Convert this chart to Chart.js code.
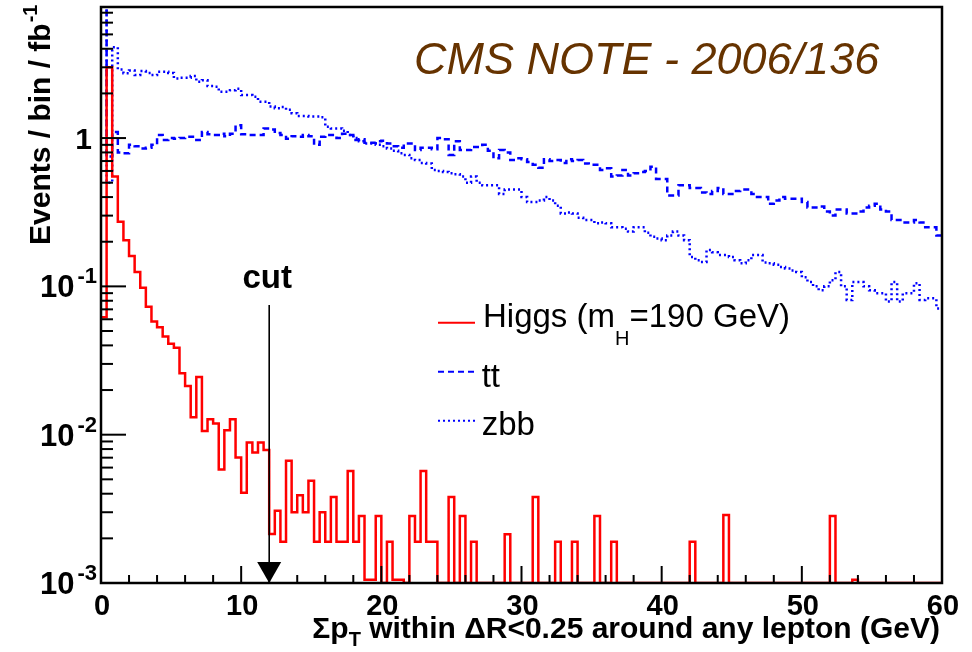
<!DOCTYPE html>
<html><head><meta charset="utf-8">
<script src="https://cdn.jsdelivr.net/npm/chart.js@4.4.1/dist/chart.umd.min.js"></script>
<style>html,body{margin:0;padding:0;background:#fff;} #wrap{width:972px;height:652px;position:relative;}</style>
</head><body><div id="wrap"><canvas id="c"></canvas></div>
<script>
// ---- data ----
const BIN_WIDTH = 0.4; // GeV per bin, bins start at 0
const X_MIN = 0, X_MAX = 60, X_MINOR_STEP = 2;
const Y_MIN = 0.001, Y_MAX = 7.65;
const X_TICK_VALUES = [0, 10, 20, 30, 40, 50, 60];
const X_TICK_LABELS = ['0', '10', '20', '30', '40', '50', '60'];
const Y_TICK_VALUES = [1, 0.1, 0.01, 0.001];
const Y_TICK_BASES = ['1', '10', '10', '10'];
const Y_TICK_EXPS = ['', '-1', '-2', '-3'];
const CUT_VALUE = 12;
const CUT_ARROW_TOP = 0.075;

const higgs = [
 0.062, 3.0, 0.55, 0.273, 0.205, 0.16, 0.125, 0.098, 0.073, 0.058,
 0.053, 0.046, 0.041, 0.0385, 0.026, 0.0213, 0.0131, 0.0245, 0.0106, 0.0127,
 0.0119, 0.00583, 0.0107, 0.0127, 0.00703, 0.00406, 0.00887, 0.00759, 0.00887, 0.00787,
 0.00214, 0.00307, 0.0019, 0.00667, 0.003, 0.0039, 0.003, 0.0049, 0.0019, 0.003,
 0.0019, 0.0038, 0.0019, 0.0019, 0.0057, 0.0019, 0.00283, 0.00105, 0.00105, 0.00283,
 0, 0.0019, 0.00105, 0.00105, 0, 0.00283, 0.0019, 0.0057, 0.0019, 0.0019,
 0, 0, 0.0038, 0, 0.00283, 0, 0.0019, 0, 0, 0,
 0, 0, 0.00213, 0, 0, 0, 0, 0.0038, 0, 0,
 0, 0.0019, 0, 0, 0.0019, 0, 0, 0, 0.00283, 0,
 0, 0.0019, 0, 0, 0, 0, 0, 0, 0, 0,
 0, 0, 0, 0, 0, 0.0019, 0, 0, 0, 0,
 0, 0.00287, 0, 0, 0, 0, 0, 0, 0, 0,
 0, 0, 0, 0, 0, 0, 0, 0, 0, 0,
 0.00283, 0, 0, 0, 0.00105, 0, 0, 0, 0, 0,
 0, 0, 0, 0, 0, 0, 0, 0, 0, 0
];
const ttbar = [
 20, 0.75, 1.1, 0.80, 0.79, 0.90, 0.88, 0.85, 0.86, 0.90,
 1.05, 0.97, 1.00, 0.99, 1.00, 1.02, 1.02, 0.97, 1.10, 1.06,
 1.05, 1.07, 1.03, 1.07, 1.22, 1.06, 1.05, 1.05, 1.05, 1.16,
 1.14, 1.08, 1.05, 0.99, 1.03, 1.02, 1.05, 1.03, 0.90, 1.02,
 1.05, 1.05, 1.00, 1.07, 1.05, 0.97, 0.98, 0.93, 0.93, 0.95,
 0.96, 0.92, 0.88, 0.86, 0.92, 0.92, 0.83, 0.86, 0.86, 0.84,
 1.00, 0.98, 0.77, 0.95, 0.83, 0.83, 0.87, 0.87, 0.90, 0.82,
 0.73, 0.83, 0.80, 0.71, 0.73, 0.72, 0.69, 0.66, 0.63, 0.72,
 0.70, 0.71, 0.68, 0.72, 0.70, 0.71, 0.675, 0.66, 0.66, 0.61,
 0.625, 0.55, 0.56, 0.61, 0.56, 0.58, 0.59, 0.60, 0.64, 0.53,
 0.53, 0.41, 0.41, 0.48, 0.48, 0.46, 0.46, 0.43, 0.42, 0.44,
 0.46, 0.42, 0.42, 0.44, 0.45, 0.45, 0.42, 0.40, 0.40, 0.36,
 0.38, 0.40, 0.39, 0.39, 0.39, 0.37, 0.34, 0.34, 0.345, 0.32,
 0.30, 0.33, 0.33, 0.31, 0.31, 0.32, 0.34, 0.35, 0.36, 0.33,
 0.32, 0.28, 0.28, 0.27, 0.27, 0.28, 0.27, 0.25, 0.25, 0.22
];
const zbb = [
 20, 0.5, 4.1, 2.9, 2.73, 2.85, 2.66, 2.83, 2.75, 2.66,
 2.8, 2.8, 2.75, 2.52, 2.55, 2.55, 2.62, 2.4, 2.45, 2.24,
 2.22, 2.05, 2.05, 2.1, 2.15, 1.95, 1.95, 1.9, 1.76, 1.76,
 1.63, 1.59, 1.62, 1.55, 1.47, 1.41, 1.41, 1.40, 1.40, 1.38,
 1.19, 1.16, 1.16, 1.12, 1.05, 1.0, 0.95, 0.92, 0.92, 0.90,
 0.88, 0.85, 0.82, 0.79, 0.77, 0.73, 0.71, 0.68, 0.675, 0.61,
 0.60, 0.59, 0.58, 0.57, 0.55, 0.50, 0.55, 0.50, 0.48, 0.48,
 0.48, 0.42, 0.45, 0.45, 0.45, 0.40, 0.37, 0.37, 0.38, 0.40,
 0.38, 0.35, 0.31, 0.315, 0.31, 0.29, 0.28, 0.28, 0.266, 0.27,
 0.266, 0.25, 0.25, 0.245, 0.234, 0.25, 0.25, 0.23, 0.216, 0.21,
 0.205, 0.22, 0.234, 0.22, 0.205, 0.158, 0.15, 0.146, 0.176, 0.17,
 0.163, 0.163, 0.158, 0.15, 0.143, 0.15, 0.163, 0.163, 0.145, 0.143,
 0.14, 0.135, 0.132, 0.128, 0.125, 0.115, 0.107, 0.10, 0.094, 0.10,
 0.11, 0.125, 0.10, 0.081, 0.107, 0.107, 0.10, 0.094, 0.09, 0.09,
 0.079, 0.107, 0.079, 0.09, 0.09, 0.105, 0.081, 0.083, 0.083, 0.071
];

// empty bins are drawn on the axis floor, as the histogram does
function toSteps(values) {
  const pts = values.map((v, i) => ({ x: i * BIN_WIDTH, y: v > 0 ? v : Y_MIN }));
  pts.push({ x: values.length * BIN_WIDTH, y: pts[pts.length - 1].y });
  return pts;
}

const SANS = '"Liberation Sans", Arial, Helvetica, sans-serif';

function line(ctx, x1, y1, x2, y2) { ctx.beginPath(); ctx.moveTo(x1, y1); ctx.lineTo(x2, y2); ctx.stroke(); }

const rootPlugin = {
  id: 'rootStyle',
  afterDatasetsDraw(chart) {
    const { ctx, chartArea: a, scales: { x, y } } = chart;
    ctx.save();
    ctx.strokeStyle = '#000'; ctx.fillStyle = '#000';
    // cut arrow
    const cx = x.getPixelForValue(CUT_VALUE);
    const cTop = y.getPixelForValue(CUT_ARROW_TOP);
    ctx.lineWidth = 1.6;
    line(ctx, cx, cTop, cx, a.bottom - 18);
    ctx.beginPath(); ctx.moveTo(cx - 12, a.bottom - 21); ctx.lineTo(cx + 12, a.bottom - 21); ctx.lineTo(cx, a.bottom); ctx.closePath(); ctx.fill();
    ctx.font = 'bold 33px ' + SANS; ctx.textAlign = 'center'; ctx.textBaseline = 'alphabetic';
    ctx.fillText('cut', cx - 2, 288);

    // frame
    ctx.lineWidth = 2.5;
    ctx.strokeRect(a.left, a.top, a.right - a.left, a.bottom - a.top);
    // y ticks (inside)
    ctx.lineWidth = 2;
    for (let d = -3; d <= 0; d++) {
      for (let m = 1; m <= 9; m++) {
        const v = m * Math.pow(10, d);
        if (v > Y_MAX) continue;
        const py = y.getPixelForValue(v);
        line(ctx, a.left, py, a.left + (m === 1 ? 25 : 12), py);
      }
    }
    // x ticks (inside)
    for (let v = X_MIN; v <= X_MAX; v += X_MINOR_STEP) {
      const px = x.getPixelForValue(v);
      line(ctx, px, a.bottom, px, a.bottom - (v % 10 === 0 ? 17 : 8));
    }
    // x tick labels
    ctx.font = 'bold 29px ' + SANS; ctx.textAlign = 'center';
    X_TICK_VALUES.forEach((v, i) => ctx.fillText(X_TICK_LABELS[i], x.getPixelForValue(v) + 1, 615));
    // y tick labels
    Y_TICK_VALUES.forEach((v, i) => {
      const py = y.getPixelForValue(v);
      ctx.textAlign = 'right';
      if (!Y_TICK_EXPS[i]) {
        ctx.font = 'bold 30px ' + SANS;
        ctx.fillText(Y_TICK_BASES[i], 92, py + 11);
      } else {
        ctx.font = 'bold 22px ' + SANS;
        const we = ctx.measureText(Y_TICK_EXPS[i]).width;
        ctx.fillText(Y_TICK_EXPS[i], 97, py - 3);
        ctx.font = 'bold 31px ' + SANS;
        ctx.fillText(Y_TICK_BASES[i], 97 - we - 3, py + 11);
      }
    });
    // y title (rotated)
    ctx.save();
    ctx.translate(50, 245); ctx.rotate(-Math.PI / 2);
    ctx.textAlign = 'left';
    ctx.font = 'bold 30px ' + SANS;
    const yt = 'Events / bin / fb';
    ctx.fillText(yt, 0, 0);
    const wyt = ctx.measureText(yt).width;
    ctx.font = 'bold 20px ' + SANS;
    ctx.fillText('-1', wyt + 1, -13);
    ctx.restore();
    // x title (right aligned at a.right)
    const parts = [
      { t: '\u03A3p', f: 'bold 30px ' + SANS, dy: 0 },
      { t: 'T', f: 'bold 20px ' + SANS, dy: 8 },
      { t: ' within \u0394R<0.25 around any lepton (GeV)', f: 'bold 30px ' + SANS, dy: 0 }
    ];
    let tw = 0;
    parts.forEach(p => { ctx.font = p.f; p.w = ctx.measureText(p.t).width; tw += p.w; });
    let xx = a.right - 2 - tw;
    ctx.textAlign = 'left';
    parts.forEach(p => { ctx.font = p.f; ctx.fillText(p.t, xx, 638 + p.dy); xx += p.w; });

    // title
    ctx.fillStyle = '#663300';
    ctx.font = 'italic 45px ' + SANS;
    ctx.fillText('CMS NOTE - 2006/136', 414, 73.5);

    // legend
    const ds = chart.data.datasets;
    const lx1 = 438, lx2 = 475;
    const rows = [322.7, 371.7, 420.7];
    ds.forEach((d, i) => {
      ctx.save();
      ctx.strokeStyle = d.borderColor; ctx.lineWidth = 2;
      ctx.setLineDash(d.borderDash || []);
      line(ctx, lx1, rows[i], lx2, rows[i]);
      ctx.restore();
    });
    ctx.fillStyle = '#000';
    ctx.font = '33px ' + SANS;
    let hx = 483;
    const h1 = 'Higgs (m';
    ctx.fillText(h1, hx, 327); hx += ctx.measureText(h1).width;
    ctx.font = '20px ' + SANS;
    ctx.fillText('H', hx, 345); hx += ctx.measureText('H').width;
    ctx.font = '33px ' + SANS;
    ctx.fillText('=190 GeV)', hx, 327);
    ctx.fillText(ds[1].label, 481.7, 387);
    ctx.fillText(ds[2].label, 481.7, 435);
    ctx.restore();
  }
};

new Chart(document.getElementById('c'), {
  type: 'line',
  data: {
    datasets: [
      { label: 'Higgs', data: toSteps(higgs), borderColor: '#ff0000', borderWidth: 2.5, stepped: true, pointRadius: 0, fill: false },
      { label: 'tt', data: toSteps(ttbar), borderColor: '#0000ff', borderWidth: 2.5, borderDash: [6, 4], stepped: true, pointRadius: 0, fill: false },
      { label: 'zbb', data: toSteps(zbb), borderColor: '#0000ff', borderWidth: 2.5, borderDash: [2, 3], stepped: true, pointRadius: 0, fill: false }
    ]
  },
  options: {
    responsive: true, maintainAspectRatio: false, animation: false, devicePixelRatio: 1,
    events: [],
    layout: { padding: { left: 0, right: 30, top: 7, bottom: 0 } },
    plugins: { legend: { display: false }, tooltip: { enabled: false }, title: { display: false } },
    scales: {
      x: { type: 'linear', min: X_MIN, max: X_MAX, ticks: { display: false }, grid: { display: false }, border: { display: false }, afterFit(s) { s.height = 69; } },
      y: { type: 'logarithmic', min: Y_MIN, max: Y_MAX, ticks: { display: false }, grid: { display: false }, border: { display: false }, afterFit(s) { s.width = 101; } }
    }
  },
  plugins: [rootPlugin]
});
</script></body></html>
